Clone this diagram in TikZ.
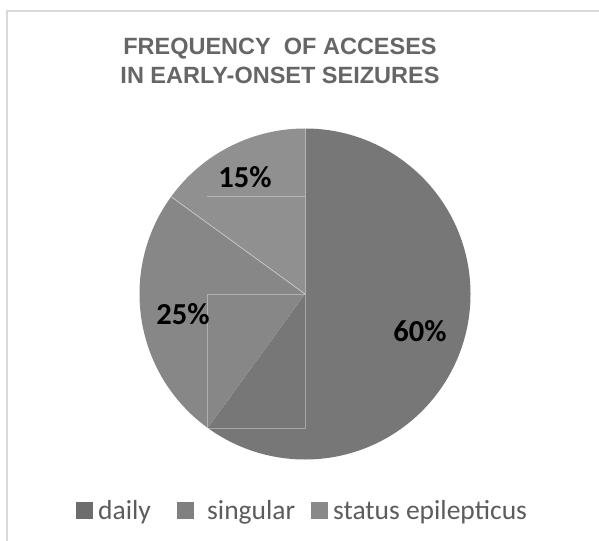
\documentclass[tikz,border=0pt]{standalone}
\usepackage{fontspec}
\setmainfont{Carlito}
\newfontfamily\titlefont{Liberation Sans}
\definecolor{dailycol}{HTML}{777777}
\definecolor{singcol}{HTML}{878787}
\definecolor{statcol}{HTML}{909090}
\definecolor{framecol}{HTML}{D9D9D9}
\definecolor{titlecol}{HTML}{666666}
\definecolor{legcol}{HTML}{5C5C5C}
\tikzset{
  slice/.style={draw=none},
  sep/.style={draw=white, draw opacity=0.45, line width=0.8bp},
  lblbox/.style={draw=white, draw opacity=0.35, line width=0.8bp},
  pct/.style={font=\bfseries\fontsize{30.5bp}{32bp}\selectfont, text=black, inner sep=0pt},
  legsq/.style={fill=#1, draw=none, minimum size=17bp, inner sep=0pt},
  legtxt/.style={font=\fontsize{27.5bp}{30bp}\selectfont, text=legcol, anchor=base west, inner sep=0pt},
}
\begin{document}
\begin{tikzpicture}[x=1bp, y=-1bp]
\useasboundingbox (0,0) rectangle (599,541);
\fill[white] (0,0) rectangle (599,541);
% chart frame
\draw[framecol, line width=1.5bp] (7,541) -- (7,11) -- (599,11);

% title
\node[font=\titlefont\bfseries\fontsize{23.5bp}{29bp}\selectfont, text=titlecol, align=center, inner sep=0pt]
  (title) at (280,61) {FREQUENCY\ \ OF ACCESES\\IN EARLY-ONSET SEIZURES};

% pie
\coordinate (c) at (305,294);
\def\R{165.5}
\fill[dailycol] (c) -- ++(90:-\R) arc[start angle=-90, end angle=126, radius=\R] -- cycle;
\fill[singcol] (c) -- ++(126:\R) arc[start angle=126, end angle=216, radius=\R] -- cycle;
\fill[statcol] (c) -- ++(216:\R) arc[start angle=216, end angle=270, radius=\R] -- cycle;
\draw[sep] (c) -- ++(270:\R);
\draw[sep] (c) -- ++(216:\R);

% label frames
\draw[lblbox] (207,196) -- (305,196);
\draw[lblbox] (207,294) rectangle (305,428);

% percentages
\node[pct] (p60) at (420,331) {60\%};
\node[pct] (p25) at (183,314) {25\%};
\node[pct] (p15) at (245,177) {15\%};

% legend
\node[legsq=dailycol!92!black] (q1) at (84.5,510.5) {};
\node[legtxt] (t1) at (98,519) {daily};
\node[legsq=singcol!95!black] (q2) at (185,510.5) {};
\node[legtxt] (t2) at (207,519) {singular};
\node[legsq=statcol!95!black] (q3) at (319,510.5) {};
\node[legtxt] (t3) at (333,519) {status epilepticus};
\end{tikzpicture}
\end{document}
